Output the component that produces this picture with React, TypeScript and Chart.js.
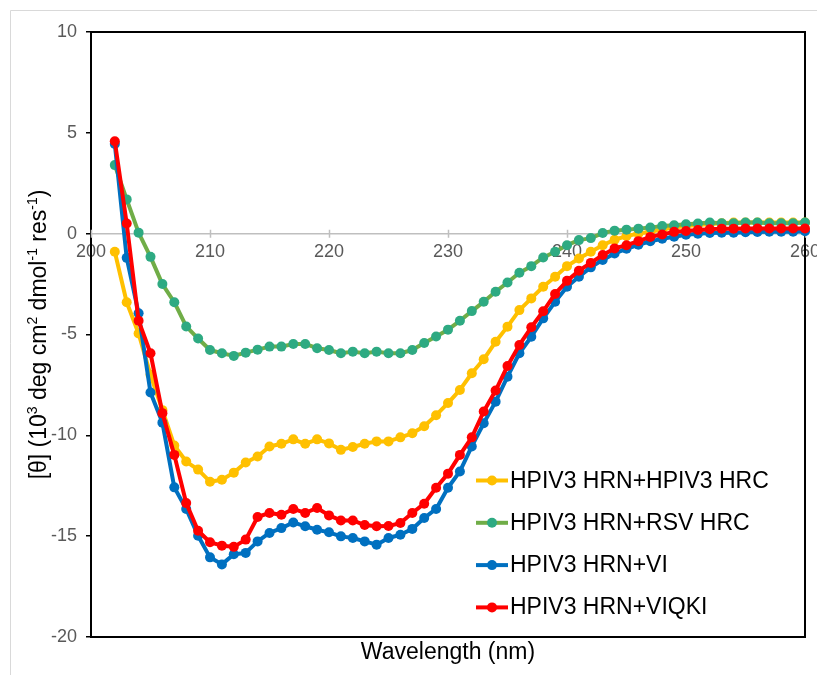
import React, { useEffect, useRef } from "react";
import { Chart, registerables } from "chart.js";

Chart.register(...registerables);

// Wavelength (nm)
const wavelengths = [
  202, 203, 204, 205, 206, 207, 208, 209, 210, 211, 212, 213, 214, 215, 216, 217, 218, 219, 220, 221,
  222, 223, 224, 225, 226, 227, 228, 229, 230, 231, 232, 233, 234, 235, 236, 237, 238, 239, 240, 241,
  242, 243, 244, 245, 246, 247, 248, 249, 250, 251, 252, 253, 254, 255, 256, 257, 258, 259, 260,
];

// Mean residue ellipticity, 10^3 deg cm^2 dmol^-1 res^-1
const hrnHpiv3Hrc = [
  -0.9, -3.4, -4.95, -7.0, -8.75, -10.5, -11.3, -11.7, -12.3, -12.2, -11.85, -11.35, -11.05, -10.55, -10.42, -10.2, -10.42, -10.2, -10.4, -10.72,
  -10.58, -10.42, -10.3, -10.3, -10.1, -9.9, -9.55, -9.0, -8.4, -7.75, -6.92, -6.23, -5.36, -4.61, -3.79, -3.21, -2.63, -2.14, -1.61, -1.23,
  -0.9, -0.57, -0.3, -0.12, 0.01, 0.1, 0.2, 0.3, 0.38, 0.43, 0.48, 0.52, 0.55, 0.55, 0.55, 0.55, 0.55, 0.55, 0.55,
];

const hrnRsvHrc = [
  3.4, 1.7, 0.05, -1.15, -2.5, -3.4, -4.6, -5.2, -5.77, -5.93, -6.06, -5.9, -5.75, -5.6, -5.6, -5.47, -5.47, -5.68, -5.77, -5.93,
  -5.85, -5.93, -5.85, -5.93, -5.93, -5.77, -5.42, -5.1, -4.76, -4.32, -3.84, -3.38, -2.88, -2.42, -1.94, -1.61, -1.18, -0.9, -0.57, -0.32,
  -0.22, 0.03, 0.15, 0.2, 0.25, 0.3, 0.38, 0.42, 0.47, 0.5, 0.55, 0.52, 0.52, 0.55, 0.55, 0.52, 0.52, 0.52, 0.55,
];

const hrnVi = [
  4.45, -1.2, -3.95, -7.88, -9.37, -12.58, -13.65, -14.98, -16.05, -16.4, -15.9, -15.83, -15.26, -14.84, -14.6, -14.32, -14.51, -14.68, -14.81, -15.01,
  -15.09, -15.26, -15.42, -15.09, -14.93, -14.64, -14.1, -13.65, -12.6, -11.79, -10.55, -9.4, -8.33, -7.09, -5.93, -5.11, -4.2, -3.38, -2.63, -2.14,
  -1.67, -1.3, -0.98, -0.75, -0.55, -0.38, -0.25, -0.15, -0.05, 0.0, 0.03, 0.05, 0.05, 0.07, 0.08, 0.1, 0.1, 0.1, 0.12,
];

const hrnViqki = [
  4.58, 0.5, -4.32, -5.93, -8.9, -10.97, -13.36, -14.73, -15.3, -15.47, -15.53, -15.17, -14.05, -13.85, -13.94, -13.65, -13.85, -13.6, -13.97, -14.22,
  -14.22, -14.45, -14.51, -14.5, -14.35, -13.85, -13.39, -12.6, -11.9, -10.97, -10.1, -8.82, -7.78, -6.56, -5.52, -4.64, -3.85, -2.99, -2.34, -1.84,
  -1.45, -1.06, -0.73, -0.57, -0.37, -0.16, -0.04, 0.09, 0.13, 0.18, 0.22, 0.25, 0.25, 0.26, 0.26, 0.26, 0.26, 0.26, 0.26,
];

const seriesLabels = [
  "HPIV3 HRN+HPIV3 HRC",
  "HPIV3 HRN+RSV HRC",
  "HPIV3 HRN+VI",
  "HPIV3 HRN+VIQKI",
];
const seriesValues = [hrnHpiv3Hrc, hrnRsvHrc, hrnVi, hrnViqki];
const lineColors = ["#FFC000", "#70AD47", "#0070C0", "#FF0000"];
const markerColors = ["#FFC000", "#2EAA82", "#0070C0", "#FF0000"];

const xTickValues = [200, 210, 220, 230, 240, 250, 260];
const yTickValues = [10, 5, 0, -5, -10, -15, -20];

const FONT = '"Liberation Sans", Arial, Helvetica, sans-serif';
const TICK_GRAY = "#595959";

type RichPart = { t: string; sup?: boolean };
const yTitleParts: RichPart[] = [
  { t: "[θ] (10" },
  { t: "3", sup: true },
  { t: " deg cm" },
  { t: "2", sup: true },
  { t: " dmol" },
  { t: "-1", sup: true },
  { t: " res" },
  { t: "-1", sup: true },
  { t: ")" },
];

const decorations = {
  id: "decorations",
  beforeDraw(chart: any) {
    const { ctx, width, height } = chart;
    ctx.save();
    ctx.fillStyle = "#FFFFFF";
    ctx.fillRect(0, 0, width, height);
    // outer chart frame
    ctx.strokeStyle = "#D9D9D9";
    ctx.lineWidth = 1;
    ctx.beginPath();
    ctx.moveTo(10.5, height + 5);
    ctx.lineTo(10.5, 10.5);
    ctx.lineTo(width + 5, 10.5);
    ctx.stroke();
    ctx.restore();
  },
  beforeDatasetsDraw(chart: any) {
    const { ctx, chartArea } = chart;
    const xs = chart.scales.x;
    const ys = chart.scales.y;
    ctx.save();
    // plot area border
    ctx.strokeStyle = "#000000";
    ctx.lineWidth = 2;
    ctx.strokeRect(chartArea.left, chartArea.top, chartArea.right - chartArea.left, chartArea.bottom - chartArea.top);
    // cross tick marks on the zero axis
    const y0 = ys.getPixelForValue(0);
    ctx.strokeStyle = "#BFBFBF";
    ctx.lineWidth = 1.5;
    ctx.beginPath();
    for (const v of xTickValues) {
      const px = Math.round(xs.getPixelForValue(v)) + 0.5;
      ctx.moveTo(px, y0 - 4);
      ctx.lineTo(px, y0 + 4);
    }
    ctx.stroke();
    ctx.restore();
  },
  afterDraw(chart: any) {
    const { ctx, chartArea } = chart;
    ctx.save();
    ctx.fillStyle = "#000000";

    // x title
    ctx.font = `23px ${FONT}`;
    ctx.textAlign = "center";
    ctx.textBaseline = "alphabetic";
    ctx.fillText("Wavelength (nm)", (chartArea.left + chartArea.right) / 2, 659);

    // y title with superscripts
    const size = 23;
    const supSize = 14;
    let total = 0;
    const widths = yTitleParts.map((p) => {
      ctx.font = `${p.sup ? supSize : size}px ${FONT}`;
      const w = ctx.measureText(p.t).width;
      total += w;
      return w;
    });
    ctx.translate(46, (chartArea.top + chartArea.bottom) / 2);
    ctx.rotate(-Math.PI / 2);
    ctx.textAlign = "left";
    let x = -total / 2;
    yTitleParts.forEach((p, i) => {
      ctx.font = `${p.sup ? supSize : size}px ${FONT}`;
      ctx.fillText(p.t, x, p.sup ? -9 : 0);
      x += widths[i];
    });
    ctx.restore();

    // legend
    ctx.save();
    ctx.font = `23px ${FONT}`;
    ctx.textAlign = "left";
    ctx.textBaseline = "alphabetic";
    seriesLabels.forEach((label, i) => {
      const base = 487.5 + i * 42.3;
      const ly = base - 7;
      ctx.strokeStyle = lineColors[i];
      ctx.lineWidth = 4;
      ctx.lineCap = "butt";
      ctx.beginPath();
      ctx.moveTo(476, ly);
      ctx.lineTo(508, ly);
      ctx.stroke();
      ctx.fillStyle = markerColors[i];
      ctx.beginPath();
      ctx.arc(492, ly, 5, 0, Math.PI * 2);
      ctx.fill();
      ctx.fillStyle = "#000000";
      ctx.fillText(label, 510, base);
    });
    ctx.restore();
  },
};

export default function App() {
  const canvasRef = useRef<HTMLCanvasElement | null>(null);

  useEffect(() => {
    const canvas = canvasRef.current;
    if (!canvas) return;

    // later series sit on top, so the list is reversed (dataset 0 draws last)
    const order = [3, 2, 1, 0];
    const datasets = order.map((i) => ({
      label: seriesLabels[i],
      data: wavelengths.map((w, k) => ({ x: w, y: seriesValues[i][k] })),
      borderColor: lineColors[i],
      backgroundColor: markerColors[i],
      pointBackgroundColor: markerColors[i],
      pointBorderWidth: 0,
      pointRadius: 5,
      borderWidth: 4,
      borderJoinStyle: "round" as const,
      borderCapStyle: "round" as const,
      tension: 0,
      clip: 8,
    }));

    const chart = new Chart(canvas, {
      type: "line",
      data: { datasets },
      options: {
        responsive: false,
        animation: false,
        events: [],
        layout: { padding: { left: 0, top: 32, right: 12, bottom: 38 } },
        plugins: {
          legend: { display: false },
          tooltip: { enabled: false },
        },
        scales: {
          x: {
            type: "linear",
            min: 200,
            max: 260,
            position: { y: 0 } as any,
            afterBuildTicks: (scale: any) => {
              scale.ticks = xTickValues.map((v) => ({ value: v }));
            },
            afterFit: (scale: any) => {
              scale.paddingLeft = 0;
              scale.paddingRight = 0;
            },
            grid: { display: false, drawTicks: false },
            border: { display: true, color: "#BFBFBF", width: 1.5 },
            ticks: {
              color: TICK_GRAY,
              font: { family: FONT, size: 18 },
              padding: 8,
              maxRotation: 0,
              autoSkip: false,
            },
          },
          y: {
            type: "linear",
            min: -20,
            max: 10,
            position: "left",
            afterBuildTicks: (scale: any) => {
              scale.ticks = yTickValues.map((v) => ({ value: v }));
            },
            afterFit: (scale: any) => {
              scale.width = 91;
              scale.paddingTop = 0;
              scale.paddingBottom = 0;
            },
            grid: {
              display: true,
              drawOnChartArea: false,
              drawTicks: true,
              tickLength: 5,
              color: "#000000",
              lineWidth: 1.5,
            },
            border: { display: true, color: "#000000", width: 2 },
            ticks: {
              color: TICK_GRAY,
              font: { family: FONT, size: 18 },
              padding: 9,
            },
          },
        },
      },
      plugins: [decorations],
    });

    return () => {
      chart.destroy();
    };
  }, []);

  return (
    <div style={{ position: "fixed", left: 0, top: 0, width: 817, height: 675, background: "#fff" }}>
      <canvas ref={canvasRef} width={817} height={675} style={{ display: "block" }} />
    </div>
  );
}
